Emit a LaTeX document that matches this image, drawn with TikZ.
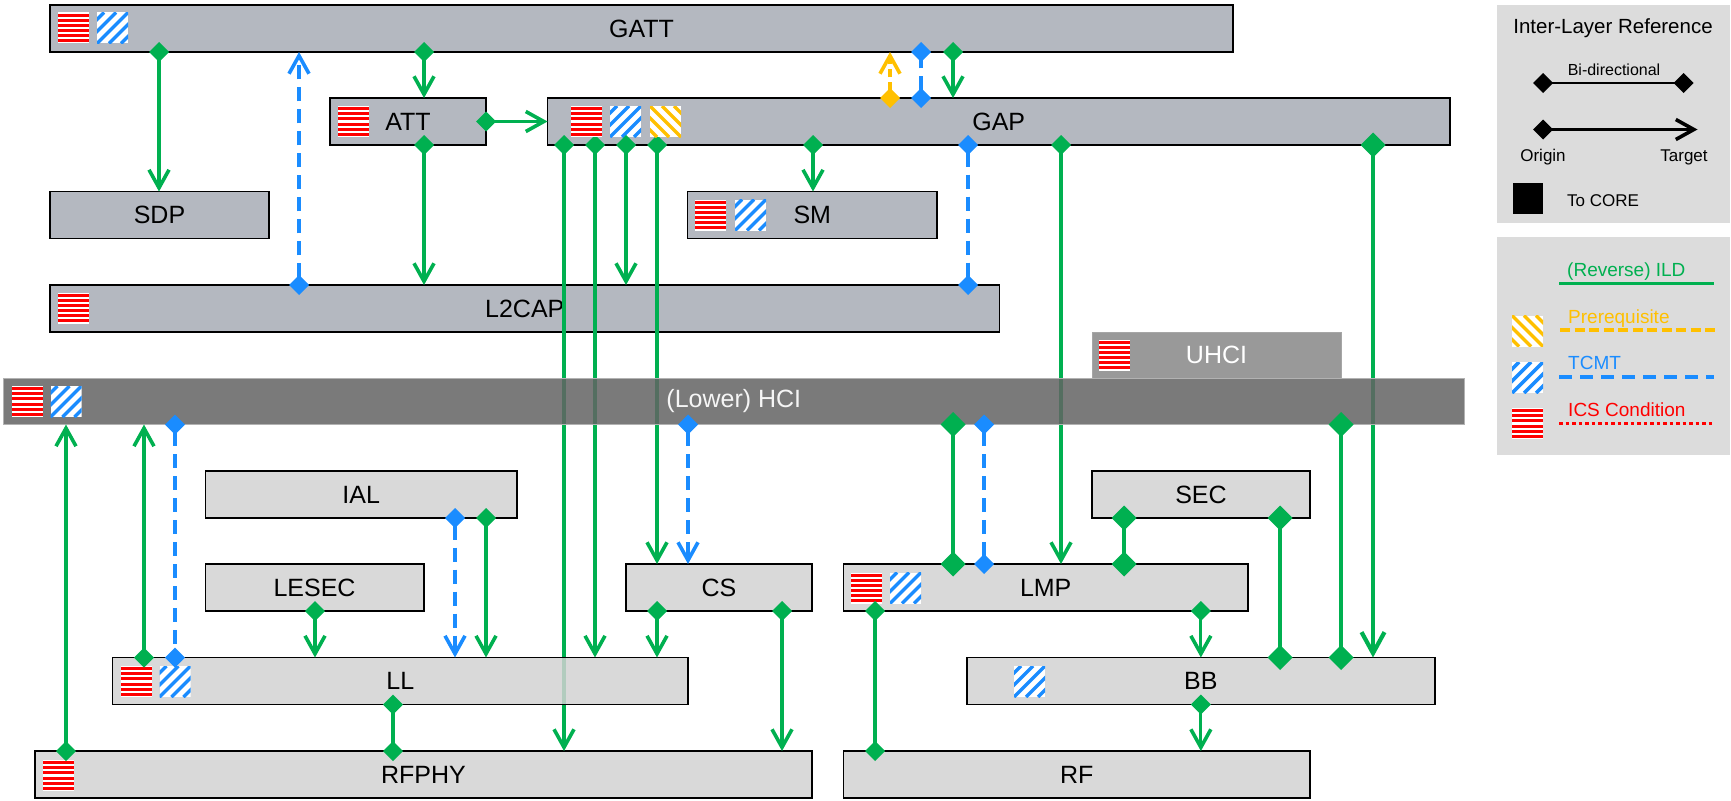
\documentclass[tikz,border=0pt]{standalone}
\usepackage{fontspec}
\setmainfont{Liberation Sans}
\usetikzlibrary{arrows.meta,positioning}
\definecolor{mgreen}{HTML}{00B050}
\definecolor{mblue}{HTML}{1A8CFF}
\definecolor{myellow}{HTML}{FFC000}
\definecolor{mred}{HTML}{FF0000}
\definecolor{upgray}{HTML}{B4B8C0}
\definecolor{lowgray}{HTML}{D9D9D9}
\definecolor{llgray}{HTML}{D2D2D2}
\definecolor{hcigray}{HTML}{636363}
\definecolor{uhcigray}{HTML}{999999}
\definecolor{leggray}{HTML}{DCDCDC}
\pgfdeclarelayer{over}
\pgfsetlayers{main,over}
\tikzstyle{ilbox}=[rectangle, draw=black, line width=1.8pt, anchor=north west, inner sep=0pt, outer sep=0pt, minimum height=47pt, font=\fontsize{25pt}{30pt}\selectfont]
\tikzstyle{upbox}=[ilbox, fill=upgray]
\tikzstyle{lowbox}=[ilbox, fill=lowgray]
\tikzstyle{ild}=[line width=3.2pt, draw=mgreen]
\tikzstyle{ildt}=[line width=4.2pt, draw=mgreen]
\tikzstyle{tcmt}=[line width=3.2pt, draw=mblue, dash pattern=on 14pt off 8pt]
\tikzstyle{prq}=[line width=3.2pt, draw=myellow, dash pattern=on 8pt off 5pt]
\tikzset{
  dia/.tip={Diamond[length=20pt,width=20pt]},
  bdia/.tip={Diamond[length=25pt,width=25pt]},
  tgt/.tip={Straight Barb[length=18pt,width=20pt,line width=3.6pt]},
  btgt/.tip={Straight Barb[length=21pt,width=23pt,line width=4.2pt]},
}
\tikzstyle{oneway}=[arrows={dia-tgt}, shorten <=-10pt]
\tikzstyle{twoway}=[arrows={dia-dia}, shorten <=-10pt, shorten >=-10pt]
\tikzstyle{onewayb}=[arrows={bdia-btgt}, shorten <=-12.5pt]
\tikzstyle{twowayb}=[arrows={bdia-bdia}, shorten <=-12.5pt, shorten >=-12.5pt]
\tikzstyle{legtext}=[inner sep=0pt, font=\fontsize{19pt}{23pt}\selectfont]
% condition icons, #1,#2 = top left corner
\newcommand{\icsbox}[2]{%
  \fill[white] (#1,#2) rectangle ++(31,31);
  \foreach \k in {0,...,5}
    \fill[mred] (#1,#2+1.2+\k*5.1) rectangle ++(31,3);
}
\newcommand{\tcmtbox}[2]{%
  \begin{scope}
    \clip (#1,#2) rectangle ++(31,31);
    \fill[white] (#1,#2) rectangle ++(31,31);
    \foreach \k in {-2,...,2}
      \draw[mblue, line width=3.5pt] (#1+\k*12,#2+31) -- ++(31,-31);
  \end{scope}}
\newcommand{\prqbox}[2]{%
  \begin{scope}
    \clip (#1,#2) rectangle ++(31,31);
    \fill[white] (#1,#2) rectangle ++(31,31);
    \foreach \k in {-2,...,2}
      \draw[myellow, line width=3.5pt] (#1+\k*12,#2) -- ++(31,31);
  \end{scope}}
\begin{document}
\begin{tikzpicture}[x=1pt, y=-1pt]
    \useasboundingbox (0,0) rectangle (1731,800);
    % host side
    \node[upbox, minimum width=1183pt] (gatt) at (50,5) {GATT};
    \node[upbox, minimum width=156pt] (att) at (330,98) {ATT};
    \node[upbox, minimum width=902.5pt] (gap) at (547.5,98) {GAP};
    \node[upbox, minimum width=219pt] (sdp) at (50,191.5) {SDP};
    \node[upbox, minimum width=249.5pt] (sm) at (687.5,191.5) {SM};
    \node[upbox, minimum width=949.5pt] (l2cap) at (50,285) {L2CAP};
    \node[ilbox, draw=gray!70, line width=0.8pt, fill=uhcigray, text=white, minimum width=249pt, minimum height=46pt] (uhci) at (1092,332) {UHCI};
    \begin{pgfonlayer}{over}
    \node[ilbox, draw=gray!60, line width=0.8pt, fill=hcigray, fill opacity=0.85, text opacity=1, text=gray!8, minimum width=1460.4pt, minimum height=46.5pt] (hci) at (3.6,378) {(Lower) HCI};
    \node[lowbox, fill=llgray, minimum width=575.5pt, fill opacity=0.85, text opacity=1] (ll) at (112.5,657.5) {LL};
    \end{pgfonlayer}
    % controller side
    \node[lowbox, minimum width=311.6pt] (ial) at (205.4,471) {IAL};
    \node[lowbox, minimum width=218pt] (sec) at (1092,471) {SEC};
    \node[lowbox, minimum width=218.3pt] (lesec) at (205.4,564) {LESEC};
    \node[lowbox, minimum width=186pt] (cs) at (626,564) {CS};
    \node[lowbox, minimum width=404.6pt] (lmp) at (843.4,564) {LMP};
    \node[lowbox, minimum width=467.7pt] (bb) at (967,657.5) {BB};
    \node[lowbox, minimum width=777pt] (rfphy) at (35,751) {RFPHY};
    \node[lowbox, minimum width=466.6pt] (rf) at (843.4,751) {RF};

    % long ILD lines running under HCI and LL
    \draw[ild, oneway] (564,0 |- gap.south) -- (564,0 |- rfphy.north);
    \draw[ild, oneway] (595,0 |- gap.south) -- (595,0 |- ll.north);
    \draw[ild, oneway] (657,0 |- gap.south) -- (657,0 |- cs.north);
    \draw[ild, oneway] (1061,0 |- gap.south) -- (1061,0 |- lmp.north);
    \draw[ildt, onewayb] (1373,0 |- gap.south) -- (1373,0 |- bb.north);

    \begin{pgfonlayer}{over}
    \icsbox{58}{12.5} \tcmtbox{97}{12.5}
    \icsbox{338}{106}
    \icsbox{571}{106} \tcmtbox{610}{106} \prqbox{650}{106}
    \icsbox{695}{199.5} \tcmtbox{735}{199.5}
    \icsbox{58}{292.5}
    \icsbox{1099}{339.5}
    \icsbox{12}{386} \tcmtbox{50.5}{386}
    \icsbox{850.5}{572.5} \tcmtbox{890}{572.5}
    \icsbox{120.5}{666} \tcmtbox{159.5}{666}
    \tcmtbox{1014}{666}
    \icsbox{42.5}{760}

    \draw[ild, oneway] (159,0 |- gatt.south) -- (159,0 |- sdp.north);
    \draw[tcmt, oneway] (299,0 |- l2cap.north) -- (299,0 |- gatt.south);
    \draw[ild, oneway] (424,0 |- gatt.south) -- (424,0 |- att.north);
    \draw[ild, oneway] (att.east) -- (gap.west);
    \draw[ild, oneway] (424,0 |- att.south) -- (424,0 |- l2cap.north);
    \draw[prq, oneway] (890,0 |- gap.north) -- (890,0 |- gatt.south);
    \draw[tcmt, twoway] (921,0 |- gap.north) -- (921,0 |- gatt.south);
    \draw[ild, oneway] (953,0 |- gatt.south) -- (953,0 |- gap.north);
    \draw[ild, oneway] (626,0 |- gap.south) -- (626,0 |- l2cap.north);
    \draw[ild, oneway] (813,0 |- gap.south) -- (813,0 |- sm.north);
    \draw[tcmt, twoway] (968,0 |- gap.south) -- (968,0 |- l2cap.north);

    \draw[ild, oneway] (66,0 |- rfphy.north) -- (66,0 |- hci.south);
    \draw[ild, oneway] (144,0 |- ll.north) -- (144,0 |- hci.south);
    \draw[tcmt, twoway] (175,0 |- hci.south) -- (175,0 |- ll.north);
    \draw[tcmt, oneway] (455,0 |- ial.south) -- (455,0 |- ll.north);
    \draw[ild, oneway] (486,0 |- ial.south) -- (486,0 |- ll.north);
    \draw[ild, oneway] (315,0 |- lesec.south) -- (315,0 |- ll.north);
    \draw[ild, twoway] (393,0 |- ll.south) -- (393,0 |- rfphy.north);
    \draw[tcmt, oneway] (688,0 |- hci.south) -- (688,0 |- cs.north);
    \draw[ild, oneway] (657,0 |- cs.south) -- (657,0 |- ll.north);
    \draw[ild, oneway] (782,0 |- cs.south) -- (782,0 |- rfphy.north);

    \draw[ildt, twowayb] (953,0 |- hci.south) -- (953,0 |- lmp.north);
    \draw[tcmt, twoway] (984,0 |- hci.south) -- (984,0 |- lmp.north);
    \draw[ildt, twowayb] (1124,0 |- sec.south) -- (1124,0 |- lmp.north);
    \draw[ildt, twowayb] (1280,0 |- sec.south) -- (1280,0 |- bb.north);
    \draw[ildt, twowayb] (1341,0 |- hci.south) -- (1341,0 |- bb.north);
    \draw[ild, twoway] (875,0 |- lmp.south) -- (875,0 |- rf.north);
    \draw[ild, oneway] (bb.north |- lmp.south) -- (bb.north);
    \draw[ild, oneway] (bb.south) -- (bb.south |- rf.north);
    \end{pgfonlayer}

    % legend
    \node[rectangle, fill=leggray, anchor=north west, inner sep=0pt, minimum width=233pt, minimum height=218pt] (leg1) at (1497,5) {};
    \node[rectangle, fill=leggray, anchor=north west, inner sep=0pt, minimum width=233pt, minimum height=218pt] (leg2) at (1497,237) {};
    \node[inner sep=0pt, anchor=base, font=\fontsize{20.5pt}{24pt}\selectfont] (legtitle) at (1613,33.3) {Inter-Layer Reference};
    \node[inner sep=0pt, anchor=base, font=\fontsize{16pt}{19pt}\selectfont] (bidirtext) at (1614,75) {Bi-directional};
    \coordinate (bd1) at (1543,83);
    \coordinate (bd2) at (1683.5,83);
    \draw[ild, draw=black, line width=2.7pt, twoway] (bd1) -- (bd2);
    \coordinate (og) at (1543,129.5);
    \coordinate (tg) at (1697.5,129.5);
    \draw[ild, draw=black, line width=2.7pt, oneway] (og) -- (tg);
    \node[inner sep=0pt, anchor=base, font=\fontsize{17pt}{20pt}\selectfont] (origin) at (1543,161.7) {Origin};
    \node[inner sep=0pt, anchor=base, font=\fontsize{17pt}{20pt}\selectfont] (target) at (1684,161.7) {Target};
    \node[fill=black, inner sep=0pt, minimum width=30pt, minimum height=31pt] (core) at (1527.6,198.5) {};
    \node[inner sep=0pt, anchor=base west, font=\fontsize{17pt}{20pt}\selectfont] (tocore) at (1567,206) {To CORE};

    \node[legtext, anchor=base west, text=mgreen] (lild) at (1567,276) {(Reverse) ILD};
    \coordinate (g1) at (1559,283.5);
    \coordinate (g2) at (1714,283.5);
    \draw[ild, line width=3.3pt] (g1) -- (g2);
    \prqbox{1512}{315.5}
    \node[legtext, anchor=base west, text=myellow] (lprq) at (1568,323) {Prerequisite};
    \coordinate (y1) at (1560,330);
    \coordinate (y2) at (1717,330);
    \draw[prq, line width=3.5pt, dash pattern=on 10pt off 4.5pt] (y1) -- (y2);
    \tcmtbox{1512}{362}
    \node[legtext, anchor=base west, text=mblue] (ltcmt) at (1568,369.5) {TCMT};
    \coordinate (b1) at (1559,377);
    \coordinate (b2) at (1714,377);
    \draw[tcmt, line width=3.3pt, dash pattern=on 13pt off 8pt] (b1) -- (b2);
    \icsbox{1512}{408}
    \node[legtext, anchor=base west, text=mred] (lics) at (1568,416) {ICS Condition};
    \coordinate (r1) at (1559,423.5);
    \coordinate (r2) at (1714,423.5);
    \draw[mred, line width=3.5pt, dash pattern=on 3.5pt off 3pt] (r1) -- (r2);
\end{tikzpicture}
\end{document}
